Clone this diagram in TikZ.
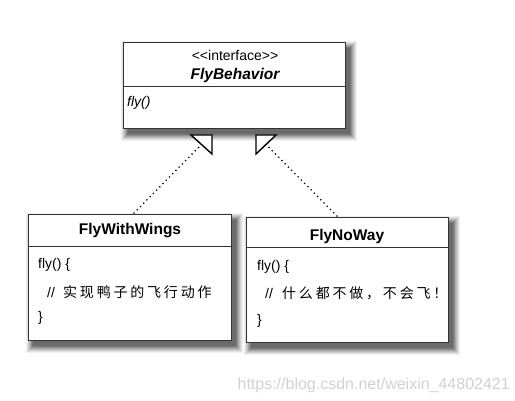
\documentclass[tikz,border=0pt]{standalone}
\usepackage{fontspec}
\setmainfont{Liberation Sans}
\newfontfamily\cjk[LetterSpace=20]{Noto Sans CJK SC}
\definecolor{edge}{HTML}{333333}
\tikzset{
  umlbox/.style={draw=edge, line width=1pt, fill=white, anchor=north west, inner sep=0pt},
  divider/.style={draw=edge, line width=1pt},
  realize/.style={draw=black, line width=1.8pt, dash pattern=on 0pt off 4.6pt, line cap=round},
  hollow/.style={draw=black, line width=1.4pt, fill=white, line join=miter},
  title/.style={font=\fontsize{15.5}{17}\selectfont\bfseries},
  code/.style={font=\fontsize{14}{16}\selectfont, anchor=west, inner sep=0pt},
  cn/.style={font=\fontsize{14}{16}\selectfont\cjk, anchor=west, inner sep=0pt}
}
\begin{document}
\begin{tikzpicture}[x=1pt,y=-1pt]
\useasboundingbox (0,0) rectangle (515,401);
% soft shadows (stacked grey layers)
\foreach \xa/\ya/\ww/\hh in {123/42/222/86, 28/214/203/126, 246/217/202/125}{
  \foreach \kk/\cc in {7/black!6,6/black!12,5/black!19,4/black!27,3/black!35,2/black!44,1/black!52,0/black!58}{
    \fill[\cc] (\xa+5-\kk,\ya+6-\kk) rectangle (\xa+\ww+5+\kk,\ya+\hh+6+\kk);
  }
}
% interface box
\node[umlbox, minimum width=222pt, minimum height=86pt] (fb) at (123,42) {};
\draw[divider] (123,87) -- (345,87);
\node[font=\fontsize{14}{16}\selectfont] (st) at (235,55) {<{}<interface>{}>};
\node[font=\fontsize{15.5}{17}\selectfont\bfseries\itshape] (fbn) at (235,75) {FlyBehavior};
\node[code, font=\fontsize{14}{16}\selectfont\itshape] (fbm) at (127,103) {fly()};
% FlyWithWings
\node[umlbox, minimum width=203pt, minimum height=126pt] (fw) at (28,214) {};
\draw[divider] (28,247) -- (231,247);
\node[title] (fwn) at (130,231) {FlyWithWings};
\node[code] (fw1) at (38,265) {fly() \{};
\node[code] (fw2) at (47,292) {//};
\node[cn] (fw3) at (63,292) {实现鸭子的飞行动作};
\node[code] (fw4) at (38,318) {\}};
% FlyNoWay
\node[umlbox, minimum width=202pt, minimum height=125pt] (fn) at (246,217) {};
\draw[divider] (246,248) -- (448,248);
\node[title] (fnn) at (347,236) {FlyNoWay};
\node[code] (fn1) at (257,267) {fly() \{};
\node[code] (fn2) at (265,293) {//};
\node[cn] (fn3) at (282,293) {什么都不做，不会飞！};
\node[code] (fn4) at (257,321) {\}};
% arrows
\coordinate (la) at (201.5,144.5);
\coordinate (ra) at (266,144.5);
\coordinate (lb) at (134,213);
\coordinate (rb) at (337,216);
\draw[realize] (lb) -- (la);
\draw[realize] (rb) -- (ra);
\draw[hollow] (191,135) -- (212,135) -- (212,154) -- cycle;
\draw[hollow] (256,135) -- (276,135) -- (256,154) -- cycle;
% watermark
\node[font=\fontsize{16}{18}\selectfont, text=black!18, anchor=east, inner sep=0pt] (wm) at (510,385) {https://blog.csdn.net/weixin\_44802421};
\end{tikzpicture}
\end{document}
